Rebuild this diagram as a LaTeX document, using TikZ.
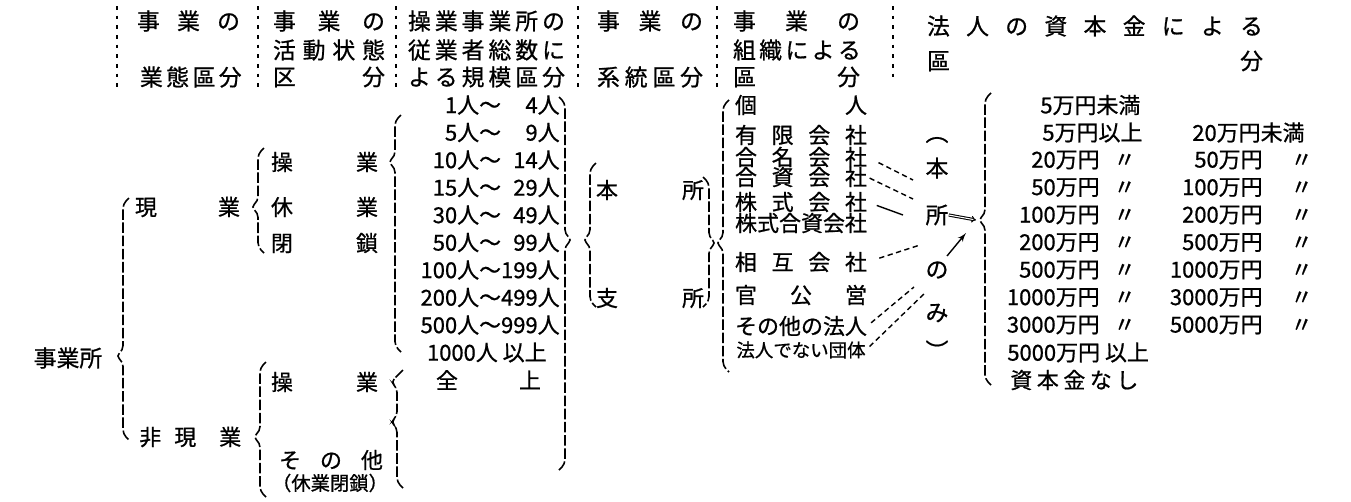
\documentclass[tikz,border=0pt]{standalone}
\usepackage{fontspec}
\newfontfamily\jpfont[RawFeature={embolden=0.8}]{Noto Sans CJK JP}
\usetikzlibrary{arrows, arrows.meta, positioning}
\newlength{\unitpx}
\setlength{\unitpx}{0.2mm}
\newcommand{\spreadbox}[2]{\makebox[#1\unitpx][s]{#2}}
\newcommand{\dit}[1]{\makebox[#1\unitpx]{〃}}
% braces: x, top, tip, bottom
\newcommand{\lbrc}[4]{\draw[brc] (#1+6,#2) -- (#1,#2+6) -- (#1,#3-6) -- (#1-7,#3) -- (#1,#3+6) -- (#1,#4-6) -- (#1+6,#4);}
\newcommand{\rbrc}[4]{\draw[brc] (#1-6,#2) -- (#1,#2+6) -- (#1,#3-6) -- (#1+7,#3) -- (#1,#3+6) -- (#1,#4-6) -- (#1-6,#4);}
\begin{document}
\begin{tikzpicture}[
x=0.2mm, y=-0.2mm,
headtxt/.style ={inner sep=0pt, font=\jpfont\fontsize{13}{13}\selectfont},
rowtxt/.style  ={inner sep=0pt, font=\jpfont\fontsize{12.5}{12.5}\selectfont},
smalltxt/.style={inner sep=0pt, font=\jpfont\fontsize{11}{11}\selectfont},
brc/.style     ={draw, line width=0.9pt, rounded corners=2.5pt, dash pattern=on 6pt off 1.5pt},
colsep/.style  ={draw, line width=1.2pt, dash pattern=on 2pt off 3.5pt},
line/.style    ={draw, line width=0.8pt, dash pattern=on 3pt off 2pt},
]
\useasboundingbox (0,0) rectangle (1351,501);

% Column heads
\node[headtxt] (h1a) at (188.5,21) {\spreadbox{103}{事 業 の}};
\node[headtxt] (h1c) at (190,77)   {\spreadbox{100}{業 態 區 分}};
\node[headtxt] (h2a) at (329,21)   {\spreadbox{112}{事 業 の}};
\node[headtxt] (h2b) at (329,50)   {\spreadbox{112}{活 動 状 態}};
\node[headtxt] (h2c) at (329,77)   {\spreadbox{112}{区 分}};
\node[headtxt] (h3a) at (486.5,21) {\spreadbox{157}{操 業 事 業 所 の}};
\node[headtxt] (h3b) at (486.5,50) {\spreadbox{157}{従 業 者 総 数 に}};
\node[headtxt] (h3c) at (486.5,77) {\spreadbox{157}{よ る 規 模 區 分}};
\node[headtxt] (h4a) at (650,21)   {\spreadbox{106}{事 業 の}};
\node[headtxt] (h4c) at (650,77)   {\spreadbox{106}{系 統 區 分}};
\node[headtxt] (h5a) at (796.5,21) {\spreadbox{127}{事 業 の}};
\node[headtxt] (h5b) at (796.5,50) {\spreadbox{127}{組 織 に よ る}};
\node[headtxt] (h5c) at (796.5,77) {\spreadbox{127}{區 分}};
\node[headtxt] (h6a) at (1095,26)  {\spreadbox{336}{法 人 の 資 本 金 に よ る}};
\node[headtxt] (h6b) at (1095,61)  {\spreadbox{336}{區 分}};

\draw[colsep] (117,6) -- (117,92);
\draw[colsep] (258,6) -- (258,92);
\draw[colsep] (396,6) -- (396,92);
\draw[colsep] (578,6) -- (578,90);
\draw[colsep] (717,6) -- (717,90);
\draw[colsep] (893,6) -- (893,80);

% Activity tree
\node[headtxt] (jgs) at (68,358) {事業所};
\node[rowtxt] (gen) at (187.5,207) {\spreadbox{105}{現 業}};
\node[rowtxt, anchor=west] (higen) at (139,437) {非\hspace{13\unitpx}現\hspace{23\unitpx}業};
\node[rowtxt] (sogyo)  at (324.5,162) {\spreadbox{107}{操 業}};
\node[rowtxt] (kyugyo) at (324.5,207) {\spreadbox{107}{休 業}};
\node[rowtxt] (heisa)  at (324.5,243) {\spreadbox{107}{閉 鎖}};
\node[rowtxt] (sogyob) at (324.5,382) {\spreadbox{107}{操 業}};
\node[rowtxt] (sonota) at (331,460)   {\spreadbox{104}{そ の 他}};
\node[smalltxt] (kyuhei) at (330,483) {（休業閉鎖）};

% Size classes
\node[rowtxt, anchor=east] (s1)  at (560,105)   {1人〜\phantom{00}4人};
\node[rowtxt, anchor=east] (s2)  at (560,132.5) {5人〜\phantom{00}9人};
\node[rowtxt, anchor=east] (s3)  at (560,160)   {10人〜\phantom{0}14人};
\node[rowtxt, anchor=east] (s4)  at (560,187.5) {15人〜\phantom{0}29人};
\node[rowtxt, anchor=east] (s5)  at (560,215)   {30人〜\phantom{0}49人};
\node[rowtxt, anchor=east] (s6)  at (560,242.5) {50人〜\phantom{0}99人};
\node[rowtxt, anchor=east] (s7)  at (560,270)   {100人〜199人};
\node[rowtxt, anchor=east] (s8)  at (560,297.5) {200人〜499人};
\node[rowtxt, anchor=east] (s9)  at (560,325)   {500人〜999人};
\node[rowtxt, anchor=east] (s10) at (547,352.5) {1000人\ 以上};
\node[rowtxt] (zenjo) at (488.5,380) {\spreadbox{105}{全 上}};

% Head office / branch
\node[rowtxt] (honsho) at (650,190) {\spreadbox{108}{本 所}};
\node[rowtxt] (shisho) at (650,298) {\spreadbox{108}{支 所}};

% Organisation
\node[rowtxt] (kojin)     at (801,105) {\spreadbox{132}{個 人}};
\node[rowtxt] (yugen)     at (801,135) {\spreadbox{132}{有 限 会 社}};
\node[rowtxt] (gomei)     at (801,157) {\spreadbox{132}{合 名 会 社}};
\node[rowtxt] (goshi)     at (801,177) {\spreadbox{132}{合 資 会 社}};
\node[rowtxt] (kabu)      at (801,202) {\spreadbox{132}{株 式 会 社}};
\node[rowtxt] (kabugoshi) at (801,223) {株式合資会社};
\node[rowtxt] (sogo)      at (801,262) {\spreadbox{132}{相 互 会 社}};
\node[rowtxt] (kanko)     at (801,295) {\spreadbox{132}{官 公 営}};
\node[rowtxt] (sonotahj)  at (801,326) {その他の法人};
\node[smalltxt, font=\jpfont\fontsize{10.5}{10.5}\selectfont] (hjdenai) at (801,350) {法人でない団体};

% (head office only)
\node[headtxt] (vp1)  at (937,140) {︵};
\node[headtxt] (vhon) at (937,168) {本};
\node[headtxt] (vsho) at (937,215) {所};
\node[headtxt] (vno)  at (937,270) {の};
\node[headtxt] (vmi)  at (937,313) {み};
\node[headtxt] (vp2)  at (937,350) {︶};

% Capital
\node[rowtxt, anchor=west] (c0)  at (1040,105)   {5万円未満};
\node[rowtxt, anchor=west] (c1a) at (1042,132.5) {5万円以上};
\node[rowtxt, anchor=west] (c1b) at (1192,132.5) {20万円未満};
\node[rowtxt, anchor=east] (c2a) at (1150,160)   {20万円\dit{50}};
\node[rowtxt, anchor=east] (c2b) at (1341,160)   {50万円\dit{78}};
\node[rowtxt, anchor=east] (c3a) at (1150,187.5) {50万円\dit{50}};
\node[rowtxt, anchor=east] (c3b) at (1341,187.5) {100万円\dit{78}};
\node[rowtxt, anchor=east] (c4a) at (1150,215)   {100万円\dit{50}};
\node[rowtxt, anchor=east] (c4b) at (1341,215)   {200万円\dit{78}};
\node[rowtxt, anchor=east] (c5a) at (1150,242.5) {200万円\dit{50}};
\node[rowtxt, anchor=east] (c5b) at (1341,242.5) {500万円\dit{78}};
\node[rowtxt, anchor=east] (c6a) at (1150,270)   {500万円\dit{50}};
\node[rowtxt, anchor=east] (c6b) at (1341,270)   {1000万円\dit{78}};
\node[rowtxt, anchor=east] (c7a) at (1150,297.5) {1000万円\dit{50}};
\node[rowtxt, anchor=east] (c7b) at (1341,297.5) {3000万円\dit{78}};
\node[rowtxt, anchor=east] (c8a) at (1150,325)   {3000万円\dit{50}};
\node[rowtxt, anchor=east] (c8b) at (1341,325)   {5000万円\dit{78}};
\node[rowtxt, anchor=west] (c9)  at (1007,352.5) {5000万円\ 以上};
\node[rowtxt, anchor=west] (c10) at (1010,380)   {\spreadbox{128}{資 本 金 な し}};

% Braces
\lbrc{123}{198}{356}{440}
\lbrc{258}{148}{207}{253}
\lbrc{260}{362}{437}{497}
\lbrc{395}{115}{162}{352}
\draw[brc] (403,370) -- (397,376) -- (391,382) -- (397,388) -- (397,416) -- (391,422) -- (397,428) -- (397,482) -- (403,488);
\rbrc{565}{97}{240}{470}
\lbrc{590}{163}{240}{307}
\rbrc{709}{177}{243}{307}
\lbrc{723}{100}{243}{372}
\lbrc{985}{93}{220}{385}

% Connect the organisations to the capital classes
\coordinate (fa) at (913,180);
\coordinate (fb) at (913,199);
\coordinate (fc) at (903,215);
\coordinate (fd) at (920,245);
\coordinate (fe) at (914,287);
\coordinate (ff) at (926,292);
\coordinate (fg) at (947,256);
\coordinate (fh) at (966,233);
\coordinate (captip) at (976,220);
\draw[line, shorten <=2.5mm] (gomei.east) -- (fa);
\draw[line, shorten <=0.5mm] (goshi.east) -- (fb);
\draw[line, solid, shorten <=2mm] (kabu.east) -- (fc);
\draw[line, shorten <=2.5mm] (sogo.east) -- (fd);
\draw[line, shorten <=1mm] (sonotahj.east) -- (fe);
\draw[line, shorten <=1mm] (hjdenai.east) -- (ff);
\draw[-latex', line width=0.8pt] (fg) -- (fh);
\draw[double, line width=0.6pt, -{Implies}] (vsho.east) -- (captip);
\end{tikzpicture}
\end{document}
